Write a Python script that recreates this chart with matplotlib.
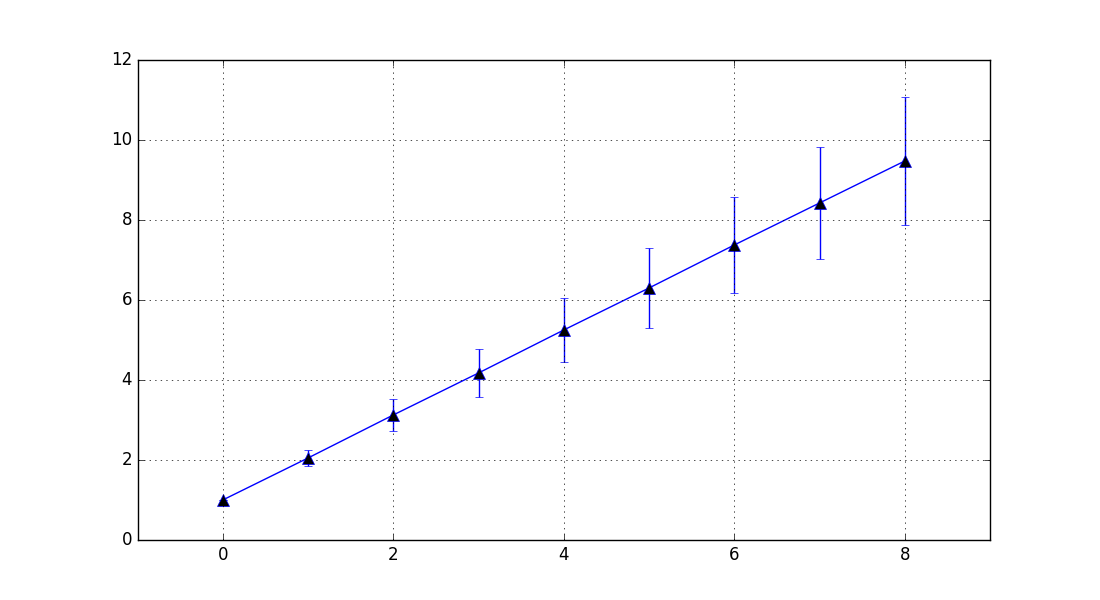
import matplotlib
matplotlib.use('Agg')
import matplotlib.pyplot as plt

plt.style.use('classic')

x = [0, 1, 2, 3, 4, 5, 6, 7, 8]
y = [1.0, 2.05, 3.125, 4.175, 5.25, 6.3, 7.375, 8.425, 9.475]
yerr = [0.0, 0.2, 0.4, 0.6, 0.8, 1.0, 1.2, 1.4, 1.6]

fig, ax = plt.subplots(figsize=(11, 6), dpi=100)
ax.errorbar(x, y, yerr=yerr, fmt='-^', color='b', ecolor='b',
            mfc='k', mec='b', ms=9, capsize=3)
ax.set_xlim(-1, 9)
ax.set_ylim(0, 12)
ax.grid(True)
fig.savefig('out.png', dpi=100)
